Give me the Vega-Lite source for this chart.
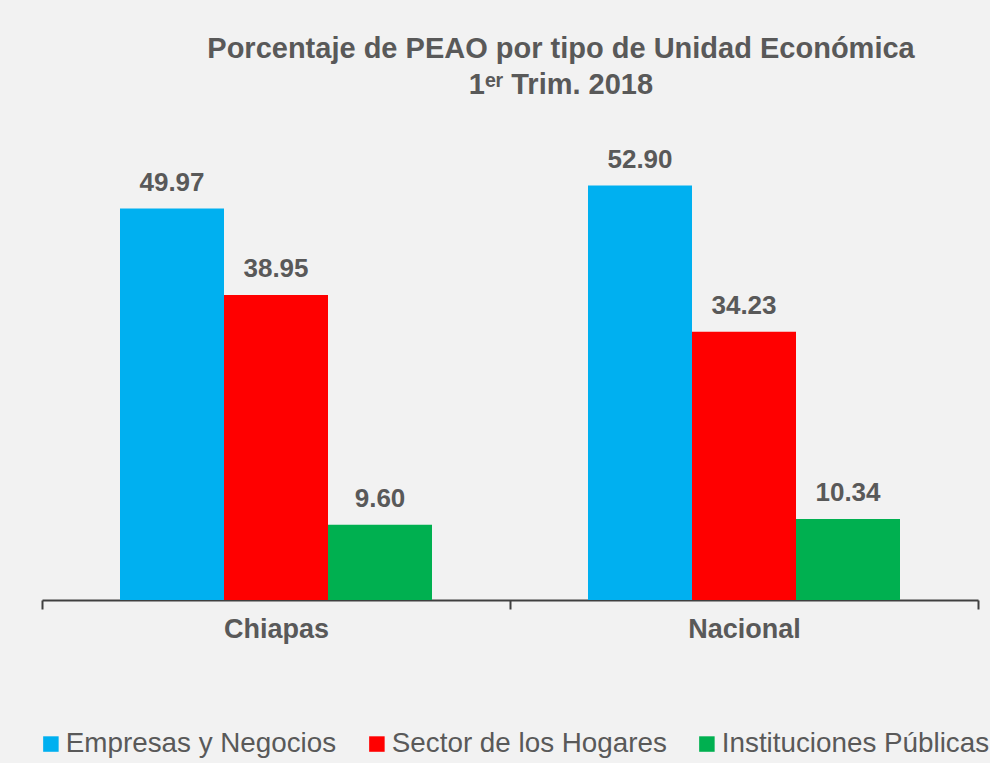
{
  "$schema": "https://vega.github.io/schema/vega-lite/v6.json",
  "autosize": "none",
  "width": 936,
  "height": 470,
  "padding": {"left": 42, "top": 130, "right": 12, "bottom": 163},
  "background": "#f2f2f2",
  "title": {
    "text": ["Porcentaje de PEAO por tipo de Unidad Económica", "1ᵉʳ Trim. 2018"],
    "anchor": "middle",
    "dx": 51,
    "offset": 30,
    "font": "Liberation Sans",
    "fontSize": 29,
    "fontWeight": "bold",
    "color": "#595959",
    "lineHeight": 36
  },
  "data": {
    "values": [
      {"region": "Chiapas", "tipo": "Empresas y Negocios", "valor": 49.97},
      {"region": "Chiapas", "tipo": "Sector de los Hogares", "valor": 38.95},
      {"region": "Chiapas", "tipo": "Instituciones Públicas", "valor": 9.60},
      {"region": "Nacional", "tipo": "Empresas y Negocios", "valor": 52.90},
      {"region": "Nacional", "tipo": "Sector de los Hogares", "valor": 34.23},
      {"region": "Nacional", "tipo": "Instituciones Públicas", "valor": 10.34}
    ]
  },
  "encoding": {
    "x": {
      "field": "region",
      "type": "nominal",
      "sort": ["Chiapas", "Nacional"],
      "scale": {"paddingInner": 0, "paddingOuter": 0},
      "axis": {
        "title": null,
        "labelAngle": 0,
        "labelFont": "Liberation Sans",
        "labelFontSize": 27,
        "labelFontWeight": "bold",
        "labelColor": "#595959",
        "labelPadding": 7,
        "domainColor": "#404040",
        "domainWidth": 2,
        "tickColor": "#404040",
        "tickWidth": 2,
        "tickSize": 9,
        "tickBand": "extent",
        "grid": false
      }
    },
    "xOffset": {
      "field": "tipo",
      "type": "nominal",
      "sort": ["Empresas y Negocios", "Sector de los Hogares", "Instituciones Públicas"],
      "scale": {"paddingInner": 0, "paddingOuter": 0.75}
    },
    "y": {
      "field": "valor",
      "type": "quantitative",
      "scale": {"domain": [0, 60]},
      "axis": null
    }
  },
  "layer": [
    {
      "mark": {"type": "bar"},
      "encoding": {
        "color": {
          "field": "tipo",
          "type": "nominal",
          "scale": {
            "domain": ["Empresas y Negocios", "Sector de los Hogares", "Instituciones Públicas"],
            "range": ["#00b0f0", "#ff0000", "#00b050"]
          },
          "legend": {
            "title": null,
            "orient": "none",
            "direction": "horizontal",
            "legendX": -5,
            "legendY": 600,
            "padding": 0,
            "symbolType": "square",
            "symbolSize": 240,
            "symbolStrokeWidth": 0,
            "symbolOpacity": 1,
            "labelFont": "Liberation Sans",
            "labelFontSize": 27.8,
            "labelColor": "#595959",
            "labelOffset": 1,
            "columnPadding": 26,
            "labelLimit": 400
          }
        }
      }
    },
    {
      "mark": {
        "type": "text",
        "baseline": "alphabetic",
        "dy": -18,
        "font": "Liberation Sans",
        "fontSize": 26,
        "fontWeight": "bold",
        "color": "#595959"
      },
      "encoding": {
        "text": {"field": "valor", "type": "quantitative", "format": ".2f"}
      }
    }
  ],
  "config": {
    "view": {"stroke": null}
  }
}
